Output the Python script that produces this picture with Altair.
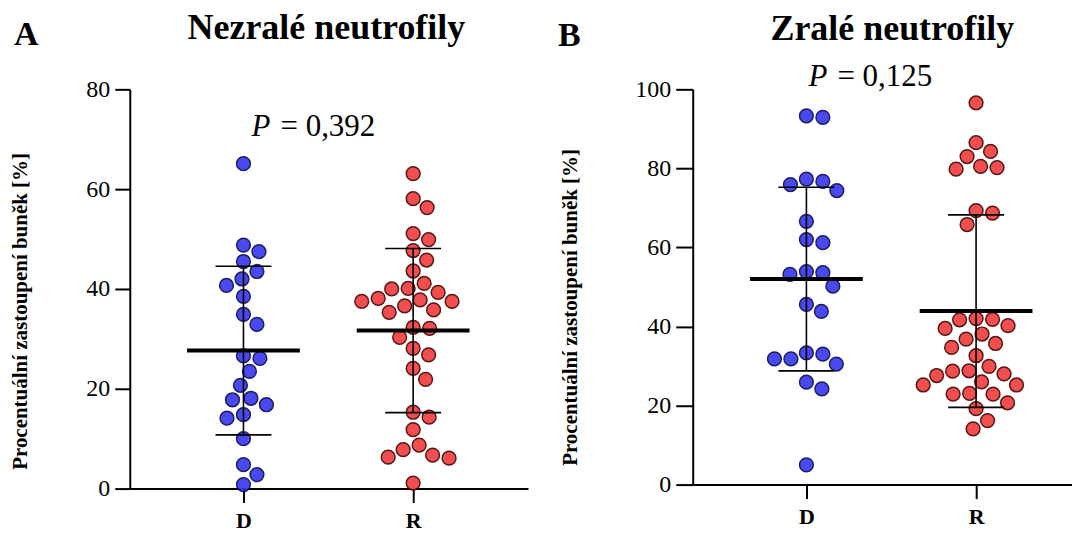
import altair as alt
import pandas as pd

# ---- data ----
groups = ["D", "R"]
immature_D = [65.1, 48.8, 47.5, 45.5, 43.5, 42.0, 40.7, 38.5, 34.9, 32.9, 26.1, 26.6,
              23.5, 20.7, 18.1, 17.8, 16.8, 14.8, 14.1, 10.0, 4.8, 2.8, 0.8]
immature_R = [63.1, 58.1, 56.3, 51.1, 49.9, 47.7, 45.8, 43.6, 41.1, 40.0, 40.1, 39.3,
              37.5, 37.5, 38.1, 37.8, 36.6, 35.3, 35.8, 32.3, 32.1, 30.3, 28.1, 26.8,
              24.1, 21.9, 15.3, 14.3, 11.8, 8.7, 7.8, 6.7, 6.3, 6.1, 1.1]
mature_D = [93.3, 92.9, 76.7, 77.3, 74.4, 75.9, 66.6, 62.0, 61.2, 53.9, 53.2, 53.6,
            50.2, 45.6, 43.8, 31.8, 30.5, 31.8, 33.3, 33.0, 25.9, 24.2, 5.0]
mature_R = [96.6, 86.5, 84.3, 83.0, 80.2, 79.8, 80.5, 68.7, 69.3, 65.8, 42.0, 41.8,
            41.7, 40.2, 39.5, 38.1, 36.8, 35.7, 34.7, 32.6, 29.9, 28.8, 28.0, 28.7,
            27.6, 26.0, 25.2, 25.2, 22.9, 23.1, 22.9, 20.7, 19.2, 16.2, 14.1]

titles = ["Nezralé neutrofily", "Zralé neutrofily"]
letters = ["A", "B"]
p_values = ["= 0,392", "= 0,125"]
y_ticks_A = [0, 20, 40, 60, 80]
y_ticks_B = [0, 20, 40, 60, 80, 100]
y_title = "Procentuální zastoupení buněk [%]"

FONT = "Liberation Serif, Times New Roman, Times, serif"
BLUE, BLUE_STROKE = "#3a3aef", "#0c0c55"
RED, RED_STROKE = "#f04141", "#4a0505"
PX_PER_X = 170.0
DIAM = 16.5


def swarm(values, px_per_y):
    """Greedy beeswarm: horizontal offsets (in x data units) so circles do not overlap."""
    placed = []
    offs = [0.0] * len(values)
    order = sorted(range(len(values)), key=lambda i: -values[i])
    for i in order:
        y = values[i] * px_per_y
        found = None
        k = 0
        while found is None:
            cands = [0.0] if k == 0 else [k * 0.5, -k * 0.5]
            for x in cands:
                if all((x - px) ** 2 + (y - py) ** 2 >= DIAM ** 2 for px, py in placed):
                    found = x
                    break
            k += 1
        placed.append((found, y))
        offs[i] = found / PX_PER_X
    return offs


def make_df(dvals, rvals, px_per_y):
    rows = []
    for gi, (g, vals) in enumerate(zip(groups, [dvals, rvals])):
        for v, o in zip(vals, swarm(vals, px_per_y)):
            rows.append({"group": g, "idx": gi, "value": v, "xpos": gi + o})
    return pd.DataFrame(rows)


def panel(df, ymax, yticks, height, width, title, letter, pval,
          ttl_x, ttl_y, let_x, let_y, p_x, p_y, ytitle_x, ytitle_y, ytick):
    xdom = [-0.67, -0.67 + width / PX_PER_X]
    xaxis = alt.Axis(values=[0, 1], labelExpr="datum.value == 0 ? 'D' : 'R'",
                     tickSize=14, labelPadding=8, labelFontWeight="bold",
                     labelFontSize=22, labelFont=FONT, title=None)
    yaxis = alt.Axis(values=yticks, tickSize=ytick, labelPadding=5, title=y_title,
                     labelFont=FONT, labelFontSize=24,
                     titleFont=FONT, titleFontSize=21, titleFontWeight="bold",
                     titleX=ytitle_x, titleY=ytitle_y, titleAngle=270,
                     titleAlign="center", titleBaseline="middle", titleColor="black")
    xs = alt.Scale(domain=xdom, nice=False, zero=False)
    ys = alt.Scale(domain=[0, ymax], nice=False)
    X = alt.X("xpos:Q", scale=xs, axis=xaxis)
    base = alt.Chart(df)
    pts = base.mark_circle(size=190, strokeWidth=1.5, opacity=0.92).encode(
        x=X,
        y=alt.Y("value:Q", scale=ys, axis=yaxis),
        color=alt.Color("group:N", scale=alt.Scale(domain=groups, range=[BLUE, RED]), legend=None),
        stroke=alt.Stroke("group:N", scale=alt.Scale(domain=groups, range=[BLUE_STROKE, RED_STROKE]), legend=None),
    )
    agg = base.transform_aggregate(
        mean="mean(value)", sd="stdev(value)", groupby=["group", "idx"]
    ).transform_calculate(
        xpos="datum.idx", lo="datum.mean - datum.sd", hi="datum.mean + datum.sd"
    )
    sdline = agg.mark_rule(color="black", strokeWidth=1.6, opacity=1).encode(
        x=X, y=alt.Y("lo:Q", scale=ys, axis=yaxis), y2="hi:Q")
    caps = agg.transform_fold(["lo", "hi"], as_=["k", "capv"]).mark_tick(
        orient="horizontal", size=56, thickness=1.6, color="black", opacity=1).encode(
        x=X, y=alt.Y("capv:Q", scale=ys, axis=yaxis))
    meanl = agg.mark_tick(orient="horizontal", size=113, thickness=4, color="black",
                          opacity=1).encode(
        x=X, y=alt.Y("mean:Q", scale=ys, axis=yaxis))

    tdf = pd.DataFrame({"title": [title], "letter": [letter], "p": ["P"], "pv": [pval]})
    tb = alt.Chart(tdf)
    t_title = tb.mark_text(font=FONT, fontSize=36, fontWeight="bold", align="center",
                           baseline="alphabetic", color="black").encode(
        text="title:N", x=alt.value(ttl_x), y=alt.value(ttl_y))
    t_letter = tb.mark_text(font=FONT, fontSize=34, fontWeight="bold", align="left",
                            baseline="alphabetic", color="black").encode(
        text="letter:N", x=alt.value(let_x), y=alt.value(let_y))
    t_p = tb.mark_text(font=FONT, fontSize=31, fontStyle="italic", align="left",
                       baseline="alphabetic", color="black").encode(
        text="p:N", x=alt.value(p_x), y=alt.value(p_y))
    t_pv = tb.mark_text(font=FONT, fontSize=31, align="left",
                        baseline="alphabetic", color="black").encode(
        text="pv:N", x=alt.value(p_x + 29), y=alt.value(p_y))
    return alt.layer(pts, sdline, caps, meanl, t_title, t_letter, t_p, t_pv).properties(
        width=width, height=height)


dfA = make_df(immature_D, immature_R, 400 / 80)
dfB = make_df(mature_D, mature_R, 396 / 100)

chartA = panel(dfA, 80, y_ticks_A, 400, 399, titles[0], letters[0], p_values[0],
               197, -50, -116, -44, 122, 47, -109, 222, 15)
chartB = panel(dfB, 100, y_ticks_B, 396, 380, titles[1], letters[1], p_values[1],
               200, -49, -135, -43, 116, -3, -122, 218, 17)

chart = alt.hconcat(chartA, chartB, spacing=30).properties(
    padding={"left": 2, "top": 2, "right": 0, "bottom": 0}
).configure_view(stroke=None).configure_axis(
    domainColor="black", domainWidth=2, tickColor="black", tickWidth=2,
    labelFont=FONT, labelFontSize=22, labelColor="black", grid=False
)

chart.save("out.html", embed_options={"renderer": "svg", "actions": False})
